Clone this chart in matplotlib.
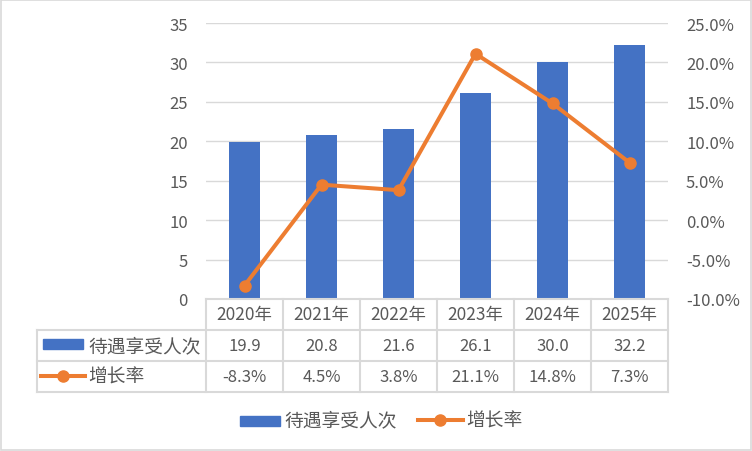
import matplotlib.pyplot as plt
import matplotlib.transforms as mtransforms
from matplotlib.lines import Line2D
from matplotlib.patches import Rectangle
from matplotlib.ticker import FuncFormatter

plt.rcParams['font.family'] = ['Noto Sans CJK SC', 'DejaVu Sans']

years = ['2020年', '2021年', '2022年', '2023年', '2024年', '2025年']
people = [19.9, 20.8, 21.6, 26.1, 30.0, 32.2]
growth = [-8.3, 4.5, 3.8, 21.1, 14.8, 7.3]
bar_name = '待遇享受人次'
line_name = '增长率'

BLUE = '#4472C4'
ORANGE = '#ED7D31'
TXT = '#595959'
GRID = '#D9D9D9'
W, H = 752, 452
NUM_FS = 12      # digits
CJK_FS = 13.5    # chinese labels


def fx(x):
    return x / W


def fy(y):
    return 1 - y / H


fig = plt.figure(figsize=(W / 100, H / 100), dpi=100)
ax = fig.add_axes([fx(206), fy(300), (668 - 206) / W, (300 - 24) / H])
ax2 = ax.twinx()

xs = list(range(len(years)))
ax.bar(xs, people, width=0.4, color=BLUE, zorder=2)
ax.set_xlim(-0.5, len(years) - 0.5)
ax.set_ylim(0, 35)
ax.set_yticks(range(0, 36, 5))
ax.yaxis.grid(True, color=GRID, linewidth=1.0)
ax.set_axisbelow(True)
ax.set_xticks([])

ax2.plot(xs, [g / 100 for g in growth], color=ORANGE, linewidth=2.9,
         marker='o', markersize=8, zorder=3)
ax2.set_ylim(-0.10, 0.25)
ax2.set_yticks([i / 100 for i in range(-10, 26, 5)])
ax2.yaxis.set_major_formatter(FuncFormatter(lambda v, p: f'{v * 100:.1f}%'))

for a in (ax, ax2):
    for s in a.spines.values():
        s.set_visible(False)
    a.tick_params(length=0, labelsize=NUM_FS, colors=TXT)
ax.tick_params(axis='y', pad=13)
ax2.tick_params(axis='y', pad=13)

# data table under the plot
gl = dict(color=GRID, linewidth=1.5)
for y in (300, 331, 362, 393):
    x0 = 206 if y == 300 else 37
    fig.add_artist(Line2D([fx(x0), fx(668)], [fy(y), fy(y)], **gl))
fig.add_artist(Line2D([fx(37), fx(37)], [fy(331), fy(393)], **gl))
for i in range(len(years) + 1):
    x = 206 + i * 77
    fig.add_artist(Line2D([fx(x), fx(x)], [fy(300), fy(393)], **gl))

tr = mtransforms.blended_transform_factory(ax.transData, fig.transFigure)
for i, yr in enumerate(years):
    fig.text(i, fy(315.5), yr, transform=tr, ha='center', va='center',
             fontsize=12.5, color=TXT)
    fig.text(i, fy(346.5), f'{people[i]:.1f}', transform=tr, ha='center',
             va='center', fontsize=NUM_FS, color=TXT)
    fig.text(i, fy(377.5), f'{growth[i]:.1f}%', transform=tr, ha='center',
             va='center', fontsize=NUM_FS, color=TXT)

# row keys
fig.add_artist(Rectangle((fx(43), fy(350)), 40 / W, 10 / H, color=BLUE))
fig.text(fx(88), fy(346.5), bar_name, ha='left', va='center', fontsize=CJK_FS, color=TXT)
fig.add_artist(Line2D([fx(41), fx(85)], [fy(377), fy(377)], color=ORANGE,
                      linewidth=2.9))
fig.add_artist(Line2D([fx(63)], [fy(377)], color=ORANGE, marker='o', markersize=8))
fig.text(fx(88), fy(377.5), line_name, ha='left', va='center', fontsize=CJK_FS, color=TXT)

# legend
fig.add_artist(Rectangle((fx(240), fy(427)), 40 / W, 10 / H, color=BLUE))
fig.text(fx(284), fy(421), bar_name, ha='left', va='center', fontsize=CJK_FS, color=TXT)
fig.add_artist(Line2D([fx(418), fx(463)], [fy(421), fy(421)], color=ORANGE,
                      linewidth=2.9))
fig.add_artist(Line2D([fx(440)], [fy(421)], color=ORANGE, marker='o', markersize=8))
fig.text(fx(466), fy(421), line_name, ha='left', va='center', fontsize=CJK_FS, color=TXT)

# outer border
fig.add_artist(Rectangle((fx(1), fy(451)), 750 / W, 450 / H, fill=False,
                         edgecolor=GRID, linewidth=1.2))

fig.savefig('out.png', dpi=100)
